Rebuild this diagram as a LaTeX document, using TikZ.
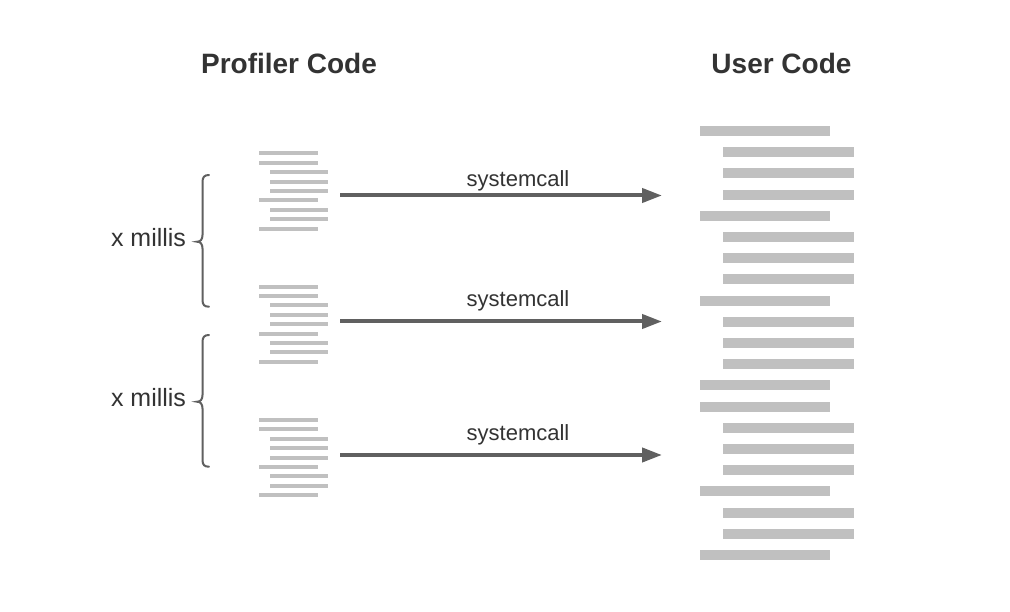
\documentclass[tikz,border=0pt]{standalone}
\usepackage{fontspec}
\setmainfont{Liberation Sans}
\usetikzlibrary{arrows.meta}
\definecolor{txt}{HTML}{333333}
\definecolor{barc}{HTML}{C0C0C0}
\definecolor{arr}{HTML}{606060}
\begin{document}
\begin{tikzpicture}[x=1pt,y=-1pt,
  heading/.style={font=\fontsize{28}{32}\selectfont\bfseries, text=txt, anchor=base, inner sep=0pt},
  calllabel/.style={font=\fontsize{22}{26}\selectfont, text=txt, anchor=base, inner sep=0pt},
  millis/.style={font=\fontsize{25}{29}\selectfont, text=txt, anchor=base, inner sep=0pt},
  callarrow/.style={draw=arr, line width=4pt, -{Triangle[length=20pt,width=14pt]}},
  bracestyle/.style={draw=arr, line width=2pt, line cap=round}
]
\useasboundingbox[fill=white] (0,0) rectangle (1010,612);

% headings
\node[heading] (hprof) at (289,73.3) {Profiler Code};
\node[heading] (huser) at (781.5,73.3) {User Code};

% profiler code blocks
\foreach \by in {153.5,286.7,420}{
  \foreach \a/\b [count=\i from 0] in {259/318,259/318,270/328,270/328,270/328,259/318,270/328,270/328,259/318}{
    \fill[barc] (\a,{\by+\i*9.4-2}) rectangle (\b,{\by+\i*9.4+2});
  }
}

% user code bars
\foreach \a/\b [count=\i from 0] in {700/830,723/854,723/854,723/854,700/830,723/854,723/854,723/854,700/830,723/854,723/854,723/854,700/830,700/830,723/854,723/854,723/854,700/830,723/854,723/854,700/830}{
  \fill[barc] (\a,{131+\i*21.2-5}) rectangle (\b,{131+\i*21.2+5});
}

% arrows
\coordinate (s1) at (340,195.5);
\coordinate (e1) at (662,195.5);
\coordinate (s2) at (340,321.5);
\coordinate (e2) at (662,321.5);
\coordinate (s3) at (340,455);
\coordinate (e3) at (662,455);
\draw[callarrow] (s1) -- (e1);
\draw[callarrow] (s2) -- (e2);
\draw[callarrow] (s3) -- (e3);
\node[calllabel] (l1) at (518,186.7) {systemcall};
\node[calllabel] (l2) at (518,306.7) {systemcall};
\node[calllabel] (l3) at (518,440) {systemcall};

% braces
\draw[bracestyle] (209,175) .. controls (204.5,175) and (202.5,177) .. (202.5,182)
  -- (202.5,235) .. controls (202.5,239.5) and (200.5,241.7) .. (197,241.7)
  .. controls (200.5,241.7) and (202.5,244) .. (202.5,248.5)
  -- (202.5,300) .. controls (202.5,305) and (204.5,306.7) .. (209,306.7);
\draw[bracestyle] (209,335) .. controls (204.5,335) and (202.5,337) .. (202.5,342)
  -- (202.5,395) .. controls (202.5,399.5) and (200.5,401.7) .. (197,401.7)
  .. controls (200.5,401.7) and (202.5,404) .. (202.5,408.5)
  -- (202.5,460) .. controls (202.5,465) and (204.5,466.7) .. (209,466.7);

\node[millis] (m1) at (148.5,246.7) {x millis};
\node[millis] (m2) at (148.5,406.7) {x millis};
\end{tikzpicture}
\end{document}
